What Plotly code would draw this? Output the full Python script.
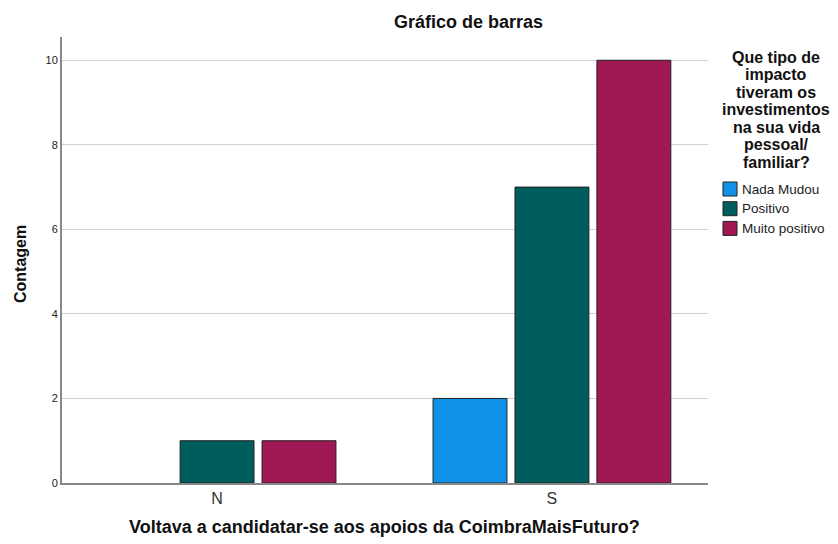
import plotly.graph_objects as go

categories = ["N", "S"]
series_names = ["Nada Mudou", "Positivo", "Muito positivo"]
nada_mudou = [0, 2]
positivo = [1, 7]
muito_positivo = [1, 10]
y_ticks = [0, 2, 4, 6, 8, 10]
legend_title_lines = ["Que tipo de", "impacto", "tiveram os", "investimentos",
                      "na sua vida", "pessoal/", "familiar?"]

colors = ["#1192e8", "#005d5d", "#9f1853"]
values = [nada_mudou, positivo, muito_positivo]

FONT = "Liberation Sans, Arial, sans-serif"
xpos = list(range(len(categories)))

# page body margin offset (the figure is drawn 8px in from the window corner)
OFF = 8
FW, FH = 838 - OFF, 544 - OFF
# plot area in window pixels
L, R, T, B = 62, 708, 37, 483
W, H = R - L, B - T


def px(x):
    return (x - L) / W


def py(y):
    return (B - y) / H


fig = go.Figure()
for name, vals, col in zip(series_names, values, colors):
    fig.add_trace(go.Bar(
        x=xpos, y=vals, name=name, showlegend=False,
        marker=dict(color=col,
                    line=dict(color="#222222", width=[0 if v == 0 else 1 for v in vals])),
    ))

annotations = [
    dict(text="<b>Gráfico de barras</b>", x=px(469), y=py(22),
         font=dict(size=18, color="#111111")),
    dict(text="<b>Voltava a candidatar-se aos apoios da CoimbraMaisFuturo?</b>",
         x=px(384), y=py(527), font=dict(size=18, color="#111111")),
    dict(text="<b>Contagem</b>", textangle=-90, x=px(20), y=py(264),
         font=dict(size=16, color="#111111")),
]
for i, line in enumerate(legend_title_lines):
    annotations.append(dict(text="<b>" + line + "</b>", x=px(776), y=py(57 + i * 17.5),
                            font=dict(size=16, color="#111111")))

shapes = []
for i, (name, col) in enumerate(zip(series_names, colors)):
    top = 182 + i * 19.7
    shapes.append(dict(type="rect", xref="paper", yref="paper",
                       x0=px(723), x1=px(737), y0=py(top + 14), y1=py(top),
                       fillcolor=col, line=dict(color="#222222", width=1)))
    annotations.append(dict(text=name, x=px(740), y=py(top + 7), xanchor="left",
                            font=dict(size=13.5, color="#222222")))

for a in annotations:
    a.setdefault("xref", "paper")
    a.setdefault("yref", "paper")
    a.setdefault("showarrow", False)
    a.setdefault("xanchor", "center")
    a.setdefault("yanchor", "middle")

fig.update_layout(
    width=FW, height=FH,
    plot_bgcolor="white", paper_bgcolor="white",
    margin=dict(l=L - OFF, r=838 - R, t=T - OFF, b=544 - B, autoexpand=False),
    barmode="group", bargap=0.266, bargroupgap=0.098,
    font=dict(family=FONT, color="#222222"),
    showlegend=False,
    xaxis=dict(range=[-0.463, 1.466], tickmode="array", tickvals=xpos, ticktext=categories,
               showgrid=False, zeroline=False, showline=True, linecolor="#888888", linewidth=2,
               ticks="", ticklen=0, tickfont=dict(size=16, color="#333333")),
    yaxis=dict(range=[0, 10.55], tickmode="array", tickvals=y_ticks,
               showgrid=True, gridcolor="#d0d0d0", gridwidth=1, zeroline=False,
               showline=True, linecolor="#888888", linewidth=2, ticks="",
               tickfont=dict(size=11, color="#222222")),
    annotations=annotations,
    shapes=shapes,
)

fig.write_html("out.html")
